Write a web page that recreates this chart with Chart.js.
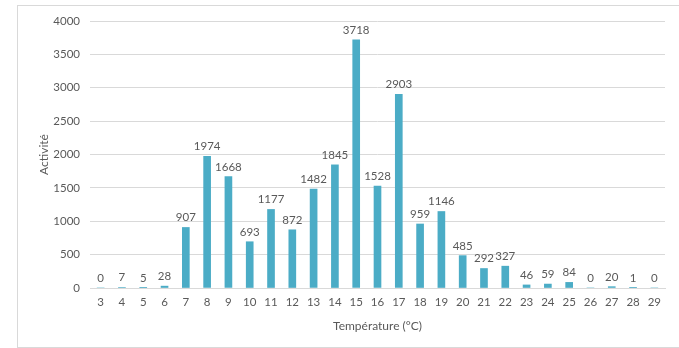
<!DOCTYPE html>
<html lang="fr">
<head>
    <meta charset="UTF-8">
    <title>Activité par température</title>
    <script src="https://cdn.jsdelivr.net/npm/chart.js"></script>
    <style>
        body {
            margin: 0;
            background: #ffffff;
        }
        .frame {
            position: absolute;
            left: 17px;
            top: 5px;
            width: 670px;
            height: 341px;
            border: 1px solid #d9d9d9;
        }
        #wrap {
            position: absolute;
            left: 0;
            top: 0;
            width: 679px;
            height: 348px;
        }
    </style>
</head>
<body>
    <div class="frame"></div>
    <div id="wrap"><canvas id="activityChart"></canvas></div>

    <script>
        // data
        const temperatures = ['3', '4', '5', '6', '7', '8', '9', '10', '11', '12', '13', '14', '15', '16',
                              '17', '18', '19', '20', '21', '22', '23', '24', '25', '26', '27', '28', '29'];
        const activity = [0, 7, 5, 28, 907, 1974, 1668, 693, 1177, 872, 1482, 1845, 3718, 1528,
                          2903, 959, 1146, 485, 292, 327, 46, 59, 84, 0, 20, 1, 0];

        const textColor = '#595959';
        const fontFamily = 'Lato, "Open Sans", sans-serif';

        // value labels above each bar
        const barLabels = {
            id: 'barLabels',
            afterDatasetsDraw(chart) {
                const ctx = chart.ctx;
                const meta = chart.getDatasetMeta(0);
                ctx.save();
                ctx.font = '11.5px ' + fontFamily;
                ctx.fillStyle = textColor;
                ctx.textAlign = 'center';
                ctx.textBaseline = 'bottom';
                meta.data.forEach((bar, i) => {
                    ctx.fillText(activity[i], bar.x, bar.y - 4);
                });
                ctx.restore();
            }
        };

        new Chart(document.getElementById('activityChart'), {
            type: 'bar',
            data: {
                labels: temperatures,
                datasets: [{
                    data: activity,
                    backgroundColor: '#4bacc6',
                    barThickness: 7
                }]
            },
            options: {
                responsive: true,
                maintainAspectRatio: false,
                animation: false,
                layout: {
                    padding: { top: 21, right: 14, bottom: 0, left: 0 }
                },
                plugins: {
                    legend: { display: false },
                    tooltip: { enabled: false }
                },
                scales: {
                    x: {
                        grid: { display: false, drawTicks: false },
                        border: { color: '#d9d9d9' },
                        ticks: {
                            color: textColor,
                            font: { family: fontFamily, size: 11.5 },
                            padding: 7,
                            maxRotation: 0,
                            autoSkip: false
                        },
                        title: {
                            display: true,
                            text: 'Température (°C)',
                            color: textColor,
                            font: { family: fontFamily, size: 12 },
                            padding: { top: 6, bottom: 15 }
                        },
                        afterFit(scale) { scale.height = 60; }
                    },
                    y: {
                        min: 0,
                        max: 4000,
                        ticks: {
                            stepSize: 500,
                            color: textColor,
                            font: { family: fontFamily, size: 11.5 },
                            padding: 10,
                            callback: (v) => String(v)
                        },
                        grid: { color: '#d9d9d9', drawTicks: false },
                        border: { display: false },
                        title: {
                            display: true,
                            text: 'Activité',
                            color: textColor,
                            font: { family: fontFamily, size: 12 },
                            padding: { top: 37, bottom: 0 }
                        },
                        afterFit(scale) { scale.width = 90; }
                    }
                }
            },
            plugins: [barLabels]
        });
    </script>
</body>
</html>
